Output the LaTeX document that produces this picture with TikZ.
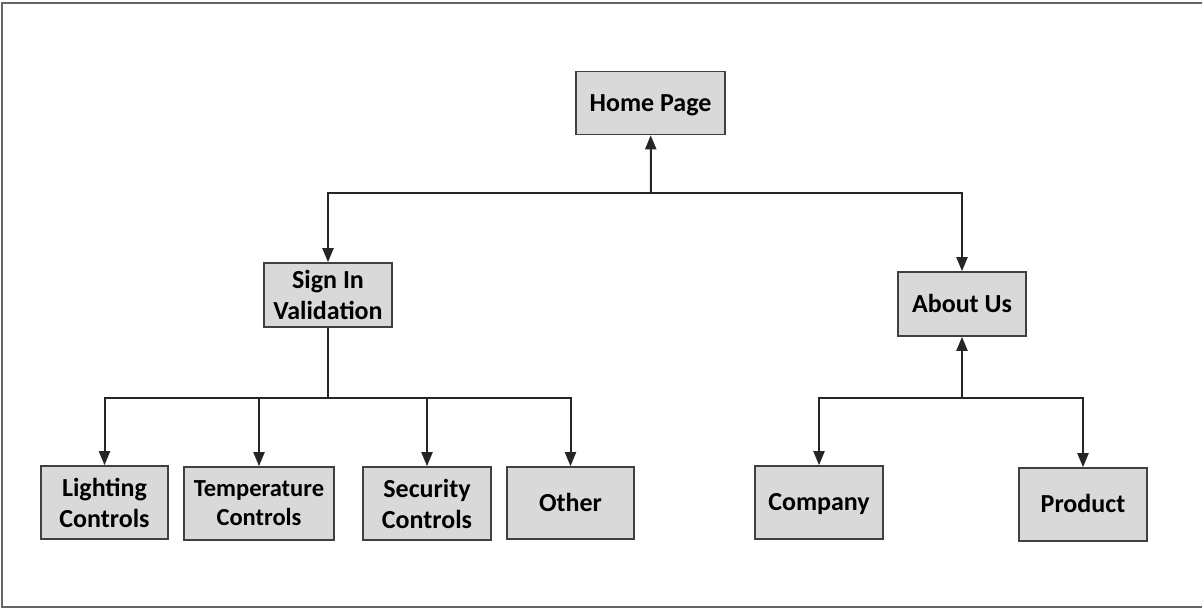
\documentclass[tikz,border=0pt]{standalone}
\usepackage{fontspec}
\setmainfont{Carlito}
\usetikzlibrary{arrows.meta}

\begin{document}
\begin{tikzpicture}[x=1pt,y=-1pt,
  plain/.style = {draw=black!75, line width=1.6pt, fill=black!15,
    font=\bfseries\fontsize{26}{31}\selectfont, inner sep=0pt},
  box/.style = {plain, align=center},
  one/.style = {plain, text height=19.3pt, text depth=2.6pt},
  small/.style = {box, font=\bfseries\fontsize{24.5}{29}\selectfont},
  link/.style = {draw=black!85, line width=2pt},
  arr/.style = {link, -{Triangle[length=14pt,width=11pt]}}]
\useasboundingbox (0,0) rectangle (1202,610);
\draw[black!60, line width=2pt] (1202,3) -- (2,3) -- (2,607) -- (1202,607);
\node[one, minimum width=149, minimum height=63] (home) at (650.5,103) {Home Page};
\node[box, minimum width=128, minimum height=64] (signin) at (328,295) {Sign In\\Validation};
\node[one, minimum width=128, minimum height=64] (about) at (962,304) {About Us};
\node[box, minimum width=127, minimum height=73] (light) at (104.5,502.5) {Lighting\\Controls};
\node[small, minimum width=150, minimum height=73] (temp) at (259,503.5) {Temperature\\Controls};
\node[box, minimum width=128, minimum height=73] (secure) at (427,503.5) {Security\\Controls};
\node[one, minimum width=127, minimum height=72] (other) at (570.5,503) {Other};
\node[one, minimum width=128, minimum height=73] (company) at (819,502.5) {Company};
\node[one, minimum width=128, minimum height=73] (product) at (1083,504.5) {Product};
\coordinate (topbus) at (651,193);
\coordinate (leftbus) at (328,398);
\coordinate (rightbus) at (962,398);
\draw[arr] (topbus) -- (home);
\draw[arr] (topbus) -| (signin);
\draw[arr] (topbus) -| (about);
\draw[link] (signin) -- (leftbus);
\draw[arr] (leftbus) -| (light);
\draw[arr] (leftbus) -| (temp);
\draw[arr] (leftbus) -| (secure);
\draw[arr] (leftbus) -| (other);
\draw[arr] (rightbus) -- (about);
\draw[arr] (rightbus) -| (company);
\draw[arr] (rightbus) -| (product);
\end{tikzpicture}
\end{document}
